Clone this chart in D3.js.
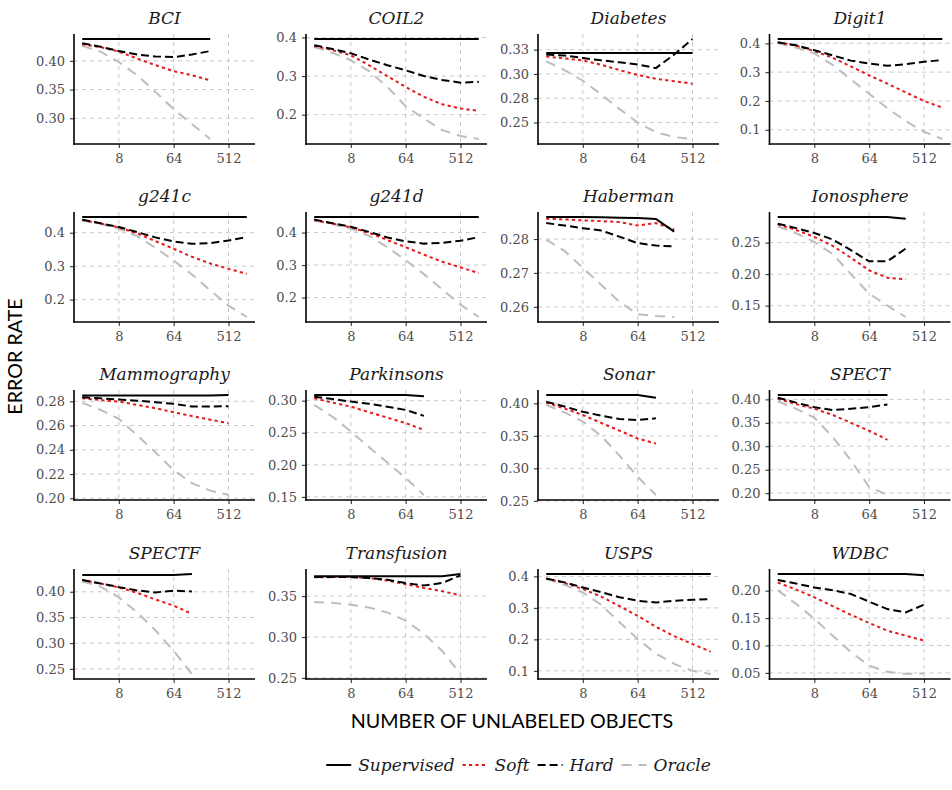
<!DOCTYPE html>
<html><head><meta charset="utf-8">
<script src="https://cdn.jsdelivr.net/npm/d3@7"></script>
<style>body{margin:0;background:#fff}svg{display:block}</style>
</head><body><svg id="c" width="952" height="790"></svg>
<script>
// ---------- data ----------
const datasets = ["BCI","COIL2","Diabetes","Digit1","g241c","g241d","Haberman","Ionosphere",
  "Mammography","Parkinsons","Sonar","SPECT","SPECTF","Transfusion","USPS","WDBC"];
const xValues = [2,4,8,16,32,64,128,256,512,1024];
const xTicks = [8,64,512];
const seriesNames = ["Supervised","Soft","Hard","Oracle"];

const supervised = [
  [0.438,0.438,0.438,0.438,0.438,0.438,0.438,0.438],
  [0.396,0.396,0.396,0.396,0.396,0.396,0.396,0.396,0.396,0.396],
  [0.3215,0.3215,0.3215,0.3215,0.3215,0.3215,0.3215,0.3215,0.3215],
  [0.415,0.415,0.415,0.415,0.415,0.415,0.415,0.415,0.415,0.415],
  [0.447,0.447,0.447,0.447,0.447,0.447,0.447,0.447,0.447,0.447],
  [0.448,0.448,0.448,0.448,0.448,0.448,0.448,0.448,0.448,0.448],
  [0.2865,0.2865,0.2865,0.2864,0.2863,0.2862,0.2859,0.2822],
  [0.2906,0.2906,0.2906,0.2906,0.2906,0.2906,0.2906,0.288],
  [0.2847,0.2847,0.2847,0.2847,0.2847,0.2847,0.2847,0.2847,0.2852],
  [0.3088,0.3088,0.3088,0.3088,0.3088,0.3088,0.3068],
  [0.4128,0.4128,0.4128,0.4128,0.4128,0.4128,0.4086],
  [0.4093,0.4093,0.4093,0.4093,0.4093,0.4093,0.4093],
  [0.4325,0.4325,0.4325,0.4325,0.4325,0.4325,0.4345],
  [0.3744,0.3744,0.3744,0.3744,0.3744,0.3744,0.3744,0.3744,0.377],
  [0.4076,0.4076,0.4076,0.4076,0.4076,0.4076,0.4076,0.4076,0.4076,0.4076],
  [0.2305,0.2305,0.2305,0.2305,0.2305,0.2305,0.2305,0.2305,0.228]
];
const soft = [
  [0.429,0.424,0.416,0.404,0.3925,0.382,0.375,0.366],
  [0.378,0.367,0.354,0.328,0.300,0.272,0.246,0.227,0.216,0.210],
  [0.318,0.316,0.314,0.3095,0.304,0.299,0.295,0.2925,0.290],
  [0.403,0.392,0.373,0.350,0.320,0.289,0.260,0.230,0.200,0.177],
  [0.438,0.428,0.416,0.398,0.375,0.352,0.328,0.308,0.292,0.277],
  [0.438,0.428,0.416,0.399,0.377,0.355,0.332,0.310,0.293,0.275],
  [0.2860,0.2858,0.2855,0.2853,0.2850,0.2840,0.2847,0.2828],
  [0.279,0.270,0.259,0.245,0.226,0.206,0.1942,0.1917],
  [0.2825,0.2810,0.2798,0.2770,0.2743,0.2710,0.2678,0.2648,0.2620],
  [0.3037,0.2970,0.2907,0.2820,0.2735,0.2650,0.2545],
  [0.401,0.392,0.382,0.370,0.358,0.346,0.338],
  [0.401,0.390,0.380,0.367,0.350,0.333,0.3138],
  [0.4228,0.416,0.4085,0.398,0.385,0.373,0.357],
  [0.3730,0.3732,0.3732,0.3720,0.3690,0.3646,0.3600,0.3560,0.3508],
  [0.393,0.379,0.360,0.336,0.306,0.275,0.240,0.210,0.185,0.161],
  [0.215,0.202,0.188,0.172,0.156,0.141,0.127,0.118,0.109]
];
const hard = [
  [0.4305,0.4246,0.417,0.411,0.4077,0.4065,0.411,0.417],
  [0.380,0.370,0.359,0.343,0.328,0.315,0.300,0.290,0.283,0.285],
  [0.320,0.319,0.3165,0.314,0.312,0.3097,0.306,0.320,0.336],
  [0.4035,0.393,0.3765,0.358,0.340,0.330,0.322,0.3276,0.336,0.342],
  [0.439,0.428,0.417,0.402,0.386,0.374,0.367,0.369,0.377,0.387],
  [0.440,0.429,0.418,0.402,0.385,0.373,0.366,0.368,0.375,0.386],
  [0.2847,0.2840,0.2832,0.2825,0.2807,0.2788,0.2781,0.2778],
  [0.280,0.273,0.2653,0.255,0.238,0.2203,0.2203,0.2405],
  [0.2833,0.2825,0.2814,0.2805,0.2793,0.2779,0.2757,0.2757,0.2760],
  [0.3062,0.3025,0.2985,0.2950,0.2905,0.2855,0.2762],
  [0.4025,0.395,0.387,0.381,0.376,0.3743,0.377],
  [0.4036,0.393,0.3834,0.377,0.380,0.3834,0.389],
  [0.4228,0.416,0.409,0.4026,0.3987,0.402,0.4005],
  [0.3732,0.3732,0.3732,0.3720,0.3700,0.3659,0.3630,0.3660,0.3752],
  [0.3936,0.381,0.365,0.350,0.334,0.3226,0.3172,0.3226,0.3258,0.328],
  [0.2195,0.213,0.206,0.201,0.194,0.180,0.1665,0.1604,0.1745]
];
const oracle = [
  [0.426,0.416,0.398,0.375,0.346,0.316,0.290,0.264],
  [0.375,0.360,0.341,0.313,0.272,0.222,0.190,0.160,0.145,0.137],
  [0.313,0.304,0.293,0.279,0.264,0.250,0.240,0.235,0.233],
  [0.400,0.385,0.365,0.325,0.275,0.225,0.175,0.130,0.093,0.068],
  [0.437,0.426,0.412,0.390,0.355,0.317,0.275,0.228,0.182,0.148],
  [0.437,0.426,0.412,0.390,0.355,0.315,0.272,0.225,0.178,0.140],
  [0.2798,0.2765,0.2715,0.2665,0.2615,0.2578,0.2573,0.2570],
  [0.276,0.265,0.251,0.232,0.200,0.169,0.150,0.132],
  [0.2787,0.2730,0.2656,0.2520,0.2380,0.2232,0.2125,0.2063,0.2027],
  [0.2933,0.2750,0.2520,0.2275,0.2035,0.1795,0.1530],
  [0.3975,0.386,0.372,0.350,0.320,0.287,0.259],
  [0.396,0.380,0.361,0.320,0.270,0.213,0.196],
  [0.420,0.410,0.389,0.360,0.325,0.285,0.240],
  [0.3427,0.3418,0.3395,0.3360,0.3300,0.3200,0.3040,0.2830,0.2548],
  [0.392,0.373,0.349,0.310,0.255,0.201,0.155,0.122,0.100,0.090],
  [0.201,0.176,0.149,0.118,0.088,0.0633,0.052,0.048,0.049]
];
const yTicks = [
  [0.30,0.35,0.40],[0.2,0.3,0.4],[0.25,0.275,0.30,0.325],[0.1,0.2,0.3,0.4],
  [0.2,0.3,0.4],[0.2,0.3,0.4],[0.26,0.27,0.28],[0.15,0.20,0.25],
  [0.20,0.22,0.24,0.26,0.28],[0.15,0.20,0.25,0.30],[0.25,0.30,0.35,0.40],[0.20,0.25,0.30,0.35,0.40],
  [0.25,0.30,0.35,0.40],[0.25,0.30,0.35],[0.1,0.2,0.3,0.4],[0.05,0.10,0.15,0.20]
];
const yTickLabels = [
  ["0.30","0.35","0.40"],["0.2","0.3","0.4"],["0.25","0.28","0.30","0.33"],["0.1","0.2","0.3","0.4"],
  ["0.2","0.3","0.4"],["0.2","0.3","0.4"],["0.26","0.27","0.28"],["0.15","0.20","0.25"],
  ["0.20","0.22","0.24","0.26","0.28"],["0.15","0.20","0.25","0.30"],["0.25","0.30","0.35","0.40"],["0.20","0.25","0.30","0.35","0.40"],
  ["0.25","0.30","0.35","0.40"],["0.25","0.30","0.35"],["0.1","0.2","0.3","0.4"],["0.05","0.10","0.15","0.20"]
];

// ---------- layout / style ----------
const colX = [74, 306, 538, 769.5];
const rowY = [34, 212, 390, 569];
const pw = 181, ph = 110;
const serif = "'DejaVu Serif', serif";
const sans = "Lato, 'Open Sans', sans-serif";
const styles = {
  Supervised: {color:"#000000", dash:null},
  Soft: {color:"#e41a1c", dash:"3.2,3.2"},
  Hard: {color:"#000000", dash:"8,4"},
  Oracle: {color:"#bdbdbd", dash:"10,7"}
};
const drawOrder = ["Oracle","Soft","Hard","Supervised"];
const seriesData = {Supervised: supervised, Soft: soft, Hard: hard, Oracle: oracle};

const svg = d3.select("#c");

const lx0 = Math.log2(d3.min(xValues)), lx1 = Math.log2(d3.max(xValues));
const lpad = (lx1 - lx0) * 0.05;
const x = d3.scaleLog().base(2).domain([2 ** (lx0 - lpad), 2 ** (lx1 + lpad)]).range([0, pw]);

datasets.forEach((name, i) => {
  const col = i % 4, row = Math.floor(i / 4);
  const g = svg.append("g").attr("transform", `translate(${colX[col]},${rowY[row]})`);
  const all = [].concat(supervised[i], soft[i], hard[i], oracle[i]);
  const [mn, mx] = d3.extent(all);
  const pad = (mx - mn) * 0.05;
  const y = d3.scaleLinear().domain([mn - pad, mx + pad]).range([ph, 0]);

  // grid
  g.selectAll(".gx").data(xTicks).join("line")
    .attr("x1", d => x(d)).attr("x2", d => x(d)).attr("y1", 0).attr("y2", ph)
    .attr("stroke", "#c2c2c2").attr("stroke-width", 0.9).attr("stroke-dasharray", "4,4");
  g.selectAll(".gy").data(yTicks[i]).join("line")
    .attr("x1", 0).attr("x2", pw).attr("y1", d => y(d)).attr("y2", d => y(d))
    .attr("stroke", "#c2c2c2").attr("stroke-width", 0.9).attr("stroke-dasharray", "4,4");

  // lines
  drawOrder.forEach(s => {
    const vals = seriesData[s][i];
    const pts = vals.map((v, k) => [xValues[k], v]);
    g.append("path").datum(pts)
      .attr("d", d3.line().x(d => x(d[0])).y(d => y(d[1])))
      .attr("fill", "none").attr("stroke", styles[s].color).attr("stroke-width", 2)
      .attr("stroke-dasharray", styles[s].dash);
  });

  // axes
  const yAxis = d3.axisLeft(y).tickValues(yTicks[i]).tickFormat((d, k) => yTickLabels[i][k])
    .tickSize(4).tickPadding(5);
  const ya = g.append("g").call(yAxis);
  const xAxis = d3.axisBottom(x).tickValues(xTicks).tickFormat(d3.format("d")).tickSize(4).tickPadding(6);
  const xa = g.append("g").attr("transform", `translate(0,${ph})`).call(xAxis);
  [ya, xa].forEach(a => {
    a.select(".domain").remove();
    a.selectAll(".tick line").attr("stroke", "#333").attr("stroke-width", 1.1);
    a.selectAll(".tick text").attr("fill", "#4d4d4d").style("font-family", serif).style("font-size", "13px");
  });
  g.append("line").attr("x1", 0).attr("x2", 0).attr("y1", 0).attr("y2", ph + 0.8)
    .attr("stroke", "#000").attr("stroke-width", 1.6);
  g.append("line").attr("x1", -0.8).attr("x2", pw).attr("y1", ph).attr("y2", ph)
    .attr("stroke", "#000").attr("stroke-width", 1.6);

  // title
  g.append("text").attr("x", pw / 2).attr("y", -10).attr("text-anchor", "middle")
    .style("font-family", serif).style("font-style", "italic").style("font-size", "17px")
    .attr("fill", "#1a1a1a").text(name);
});

// axis titles
svg.append("text").attr("x", 512).attr("y", 727.5).attr("text-anchor", "middle")
  .style("font-family", sans).style("font-size", "19.7px").attr("fill", "#000")
  .text("NUMBER OF UNLABELED OBJECTS");
svg.append("text").attr("transform", "translate(21.5,356.5) rotate(-90)").attr("text-anchor", "middle")
  .style("font-family", sans).style("font-size", "19.7px").attr("fill", "#000")
  .text("ERROR RATE");

// legend
const leg = svg.append("g");
let cx = 0;
const legY = 765;
seriesNames.forEach(s => {
  leg.append("line").attr("x1", cx).attr("x2", cx + 25).attr("y1", legY).attr("y2", legY)
    .attr("stroke", styles[s].color).attr("stroke-width", 2).attr("stroke-dasharray", styles[s].dash);
  const t = leg.append("text").attr("x", cx + 32).attr("y", legY).attr("dominant-baseline", "central")
    .style("font-family", serif).style("font-style", "italic").style("font-size", "17px")
    .attr("fill", "#1a1a1a").text(s);
  cx = cx + 32 + t.node().getComputedTextLength() + 8;
});
const legW = cx - 8;
leg.attr("transform", `translate(${518.5 - legW / 2},0)`);
</script></body></html>
